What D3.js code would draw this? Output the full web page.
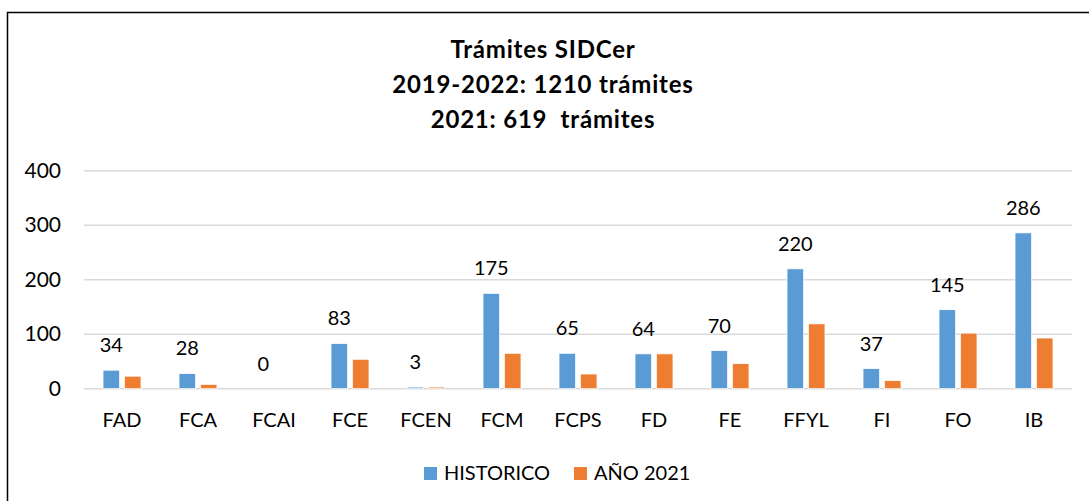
<!DOCTYPE html>
<html>
<head>
<meta charset="utf-8">
<script src="https://cdn.jsdelivr.net/npm/d3@7"></script>
<style>
  body { margin: 0; background: #fff; }
  text { font-family: "Lato", "Liberation Sans", sans-serif; fill: #000; }
  .grid line { stroke: #d9d9d9; stroke-width: 1.5; }
</style>
</head>
<body>
<div id="chart"></div>
<script>
// data
var categories = ["FAD","FCA","FCAI","FCE","FCEN","FCM","FCPS","FD","FE","FFYL","FI","FO","IB"];
var historico = [34, 28, 0, 83, 3, 175, 65, 64, 70, 220, 37, 145, 286];
var anio2021 = [23, 8, 0, 54, 3, 65, 27, 64, 46, 119, 15, 102, 93];
var seriesNames = ["HISTORICO", "AÑO 2021"];
var seriesColors = ["#5b9bd5", "#ed7d31"];
var yTicks = [0, 100, 200, 300, 400];
var titleLines = ["Trámites SIDCer", "2019-2022: 1210 trámites", "2021: 619  trámites"];

var W = 1089, H = 501;
var plot = {left: 84, right: 1072, top: 170.7, bottom: 388.7};

var svg = d3.select("#chart").append("svg")
  .attr("width", W)
  .attr("height", H);

// outer frame (only left and top edges are visible in the picture)
svg.append("path")
  .attr("d", "M7.5," + H + "V12.5H" + W)
  .attr("fill", "none")
  .attr("stroke", "#000")
  .attr("stroke-width", 1.5);

// title
svg.append("g").selectAll("text")
  .data(titleLines)
  .join("text")
    .attr("x", 543)
    .attr("y", function(d, i){ return 58 + i * 35; })
    .attr("text-anchor", "middle")
    .style("font-size", "24px")
    .style("font-weight", "bold")
    .style("letter-spacing", "0.8px")
    .style("white-space", "pre")
    .text(function(d){ return d; });

var x0 = d3.scaleBand()
  .domain(categories)
  .range([plot.left, plot.right])
  .paddingInner(0.5)
  .paddingOuter(0.25);

var x1 = d3.scaleBand()
  .domain(seriesNames)
  .range([0, x0.bandwidth()])
  .paddingInner(0.22);

var y = d3.scaleLinear()
  .domain([0, 400])
  .range([plot.bottom, plot.top]);

// gridlines
svg.append("g")
  .attr("class", "grid")
  .selectAll("line")
  .data(yTicks)
  .join("line")
    .attr("x1", plot.left)
    .attr("x2", plot.right)
    .attr("y1", function(d){ return y(d); })
    .attr("y2", function(d){ return y(d); });

// y axis labels
var yAxis = svg.append("g")
  .attr("transform", "translate(" + (plot.left - 23) + ",0)")
  .call(d3.axisLeft(y).tickValues(yTicks).tickSize(0).tickPadding(0));
yAxis.select(".domain").remove();
yAxis.selectAll("text")
  .style("font-size", "21px")
  .style("font-family", "Lato, 'Liberation Sans', sans-serif");

// x axis labels
var xAxis = svg.append("g")
  .attr("transform", "translate(0," + plot.bottom + ")")
  .call(d3.axisBottom(x0).tickSize(0).tickPadding(24));
xAxis.select(".domain").remove();
xAxis.selectAll("text")
  .style("font-size", "20px")
  .style("font-family", "Lato, 'Liberation Sans', sans-serif");

// bars
var rows = categories.map(function(c, i){
  return {cat: c, vals: [historico[i], anio2021[i]]};
});

var groups = svg.append("g").selectAll("g")
  .data(rows)
  .join("g")
    .attr("transform", function(d){ return "translate(" + x0(d.cat) + ",0)"; });

groups.selectAll("rect")
  .data(function(d){ return d.vals.map(function(v, k){ return {key: seriesNames[k], v: v, k: k}; }); })
  .join("rect")
    .attr("x", function(d){ return x1(d.key); })
    .attr("width", x1.bandwidth())
    .attr("y", function(d){ return y(d.v); })
    .attr("height", function(d){ return y(0) - y(d.v); })
    .attr("fill", function(d){ return seriesColors[d.k]; })
    .attr("stroke", "#fff")
    .attr("stroke-width", 0.8);

// value labels over the historic bars
groups.append("text")
  .attr("x", x1(seriesNames[0]) + x1.bandwidth() / 2)
  .attr("y", function(d){ return y(d.vals[0]) - 18; })
  .attr("text-anchor", "middle")
  .style("font-size", "20px")
  .text(function(d){ return d.vals[0]; });

// legend
var legend = svg.append("g").attr("transform", "translate(0,480)");
var legendX = [424, 574];
seriesNames.forEach(function(name, i){
  legend.append("rect")
    .attr("x", legendX[i])
    .attr("y", -13)
    .attr("width", 13)
    .attr("height", 13)
    .attr("fill", seriesColors[i]);
  legend.append("text")
    .attr("x", legendX[i] + 20)
    .attr("y", 0)
    .style("font-size", "20px")
    .text(name);
});
</script>
</body>
</html>
